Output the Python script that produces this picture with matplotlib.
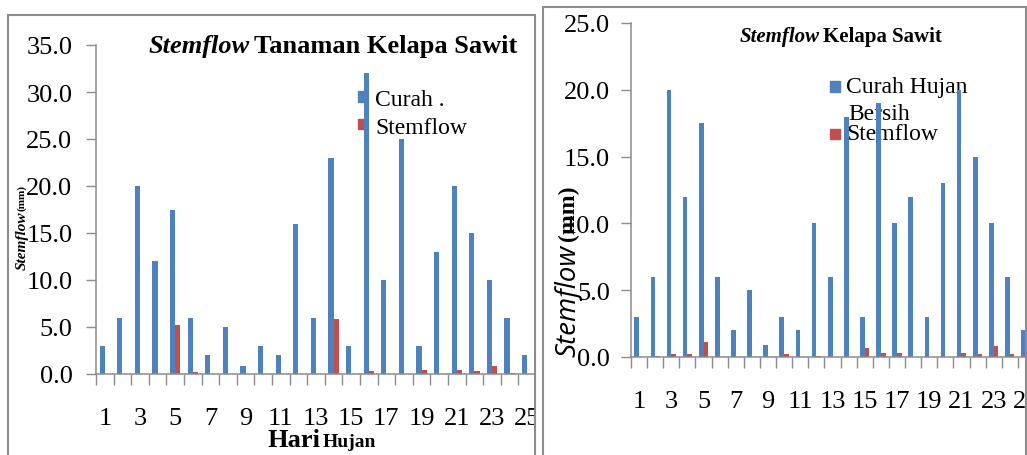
import numpy as np
import matplotlib
matplotlib.use("Agg")
from matplotlib import pyplot as plt
from matplotlib.patches import Rectangle

# data (25 rain days each)
days = [str(d) for d in range(1, 26)]
curah_left = [3, 6, 20, 12, 17.5, 6, 2, 5, 0.8, 3, 2, 16, 6, 23, 3,
              32, 10, 25, 3, 13, 20, 15, 10, 6, 2]
stem_left = [0, 0, 0, 0, 5.2, 0.2, 0, 0, 0, 0, 0, 0, 0, 5.9, 0,
             0.35, 0, 0, 0.4, 0, 0.4, 0.35, 0.8, 0.1, 0]
curah_right = [3, 6, 20, 12, 17.5, 6, 2, 5, 0.9, 3, 2, 10, 6, 18, 3,
               19, 10, 12, 3, 13, 20, 15, 10, 6, 2]
stem_right = [0, 0.1, 0.2, 0.2, 1.15, 0, 0, 0, 0, 0.2, 0, 0.1, 0, 0, 0.7,
              0.3, 0.3, 0, 0, 0, 0.3, 0.2, 0.8, 0.2, 0]

BLUE = '#4F81BD'
RED = '#C0504D'
GREY = '#8c8c8c'
W, H = 1027, 456

plt.rcParams['font.family'] = ['Liberation Serif', 'DejaVu Serif']


def fx(x):
    return x / W


def fy(y):
    return 1 - y / H


fig = plt.figure(figsize=(W / 100, H / 100), dpi=100)


def panel(rect, blue, red, ymax, tick_pad, ylab_pad):
    ax = fig.add_axes(rect)
    ax.set_facecolor('none')
    x = np.arange(len(days))
    w = 0.29
    ax.bar(x - w / 2, blue, w, color=BLUE)
    ax.bar(x + w / 2, red, w, color=RED)
    ax.set_xlim(-0.5, len(days) - 0.5)
    ax.set_ylim(0, ymax)
    ax.set_xticks(x[::2])
    ax.set_xticklabels(days[::2])
    ax.set_xticks(np.arange(-0.5, len(days)), minor=True)
    ax.set_yticks(np.arange(0, ymax + 1, 5))
    ax.set_yticklabels(['%.1f' % v for v in np.arange(0, ymax + 1, 5)])
    ax.tick_params(axis='x', which='major', length=0, pad=tick_pad, labelsize=19)
    ax.tick_params(axis='x', which='minor', length=8, width=1, color=GREY)
    ax.tick_params(axis='y', length=7, width=1, color=GREY, pad=ylab_pad, labelsize=19)
    for s in ['top', 'right']:
        ax.spines[s].set_visible(False)
    for s in ['left', 'bottom']:
        ax.spines[s].set_color(GREY)
        ax.spines[s].set_linewidth(1.1)
    return ax


ax1 = panel([fx(96), fy(375), 440 / W, (375 - 46) / H], curah_left, stem_left, 35, 24, 10)
ax2 = panel([fx(631), fy(358), 403 / W, (358 - 24) / H], curah_right, stem_right, 25, 24, 8)

# left panel texts
fig.text(fx(250), fy(47), 'Stemflow', ha='right', va='center', fontsize=19,
         fontweight='bold', fontstyle='italic')
fig.text(fx(254), fy(47), 'Tanaman Kelapa Sawit', ha='left', va='center', fontsize=19,
         fontweight='bold')
fig.text(fx(267), fy(447), 'Hari', ha='left', va='baseline', fontsize=19, fontweight='bold')
fig.text(fx(323), fy(447), 'Hujan', ha='left', va='baseline', fontsize=14, fontweight='bold')
fig.text(fx(22), fy(270), 'Stemflow', rotation=90, rotation_mode='anchor', ha='left',
         va='center', fontsize=11, fontweight='bold', fontstyle='italic')
fig.text(fx(22), fy(211), '(mm)', rotation=90, rotation_mode='anchor', ha='left',
         va='center', fontsize=8, fontweight='bold')

# left legend
fig.patches.append(Rectangle((fx(358), fy(103)), 9 / W, 11 / H, color=BLUE,
                             transform=fig.transFigure, zorder=-1))
fig.patches.append(Rectangle((fx(358), fy(130)), 9 / W, 10 / H, color=RED,
                             transform=fig.transFigure, zorder=-1))
fig.text(fx(375), fy(100), 'Curah .', ha='left', va='center', fontsize=17, zorder=-1)
fig.text(fx(375), fy(128), 'Stemflow', ha='left', va='center', fontsize=17, zorder=-1)

# right panel texts
fig.text(fx(820), fy(37), 'Stemflow', ha='right', va='center', fontsize=15,
         fontweight='bold', fontstyle='italic')
fig.text(fx(823), fy(37), 'Kelapa Sawit', ha='left', va='center', fontsize=15,
         fontweight='bold')
fig.text(fx(568), fy(357), 'Stemflow', rotation=90, rotation_mode='anchor', ha='left',
         va='center', fontsize=20, fontstyle='italic', family=['Open Sans', 'DejaVu Sans'])
fig.text(fx(568), fy(241), '(mm)', rotation=90, rotation_mode='anchor', ha='left',
         va='center', fontsize=17, fontweight='bold')

# right legend
fig.patches.append(Rectangle((fx(830), fy(93)), 10 / W, 11 / H, color=BLUE,
                             transform=fig.transFigure, zorder=-1))
fig.patches.append(Rectangle((fx(830), fy(140)), 10 / W, 10 / H, color=RED,
                             transform=fig.transFigure, zorder=-1))
fig.text(fx(846), fy(88), 'Curah Hujan', ha='left', va='center', fontsize=17, zorder=-1)
fig.text(fx(848), fy(114), 'Bersih', ha='left', va='center', fontsize=17, zorder=-1)
fig.text(fx(846), fy(135), 'Stemflow', ha='left', va='center', fontsize=17, zorder=-1)

# crop gap between the two pasted charts, and their frames
fig.patches.append(Rectangle((fx(536), 0), 7 / W, 1, color='white',
                             transform=fig.transFigure, zorder=50))
fig.patches.append(Rectangle((fx(8), fy(480)), 527 / W, (480 - 16) / H, fill=False,
                             edgecolor=GREY, lw=1.5, transform=fig.transFigure, zorder=60))
fig.patches.append(Rectangle((fx(543), fy(480)), 483 / W, (480 - 8) / H, fill=False,
                             edgecolor=GREY, lw=1.5, transform=fig.transFigure, zorder=60))

fig.savefig('out.png', dpi=100)
